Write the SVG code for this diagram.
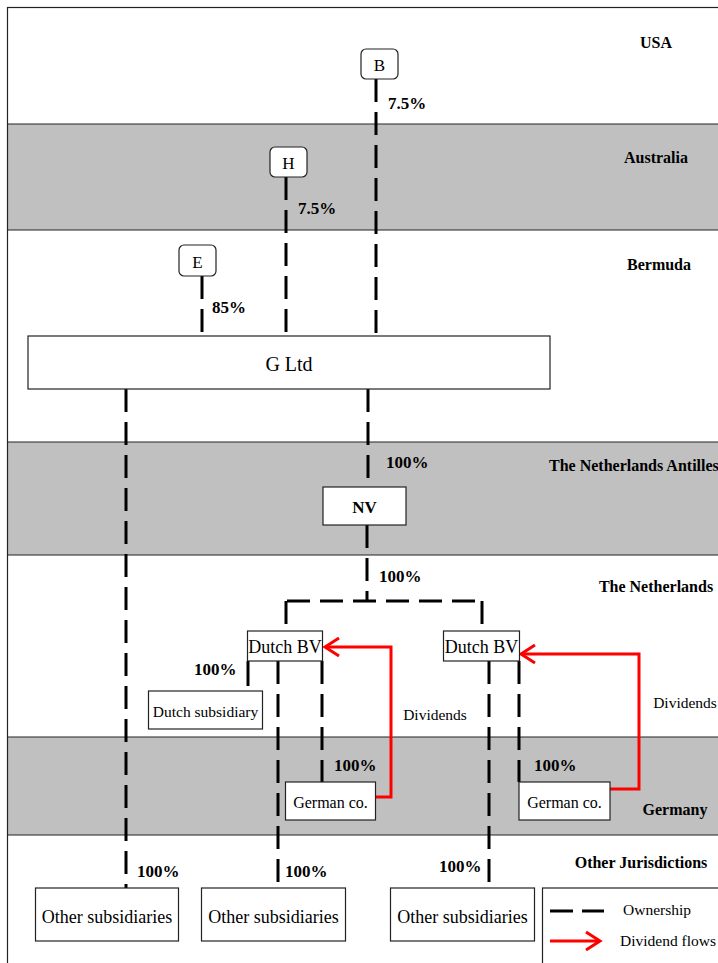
<svg xmlns="http://www.w3.org/2000/svg" width="718" height="963" viewBox="0 0 718 963">
<defs>
<style>
.band{fill:#c0c0c0}
.sep{stroke:#222;stroke-width:1.2;fill:none}
.box{fill:#fff;stroke:#222;stroke-width:1.2}
.own{stroke:#000;stroke-width:3;fill:none;stroke-dasharray:23 10}
.solid{stroke:#000;stroke-width:3;fill:none}
.div{stroke:#f00;stroke-width:3;fill:none}
.region{font-family:"Liberation Serif",serif;font-weight:bold;font-size:16px;fill:#000}
.pct{font-family:"Liberation Serif",serif;font-weight:bold;font-size:17px;fill:#000}
.t{font-family:"Liberation Serif",serif;fill:#000;text-anchor:middle}
</style>
<marker id="arr" markerWidth="22" markerHeight="24" refX="17" refY="12" orient="auto" markerUnits="userSpaceOnUse">
<path d="M3,3 L17,12 L3,21" fill="none" stroke="#f00" stroke-width="3"/>
</marker>
</defs>

<g id="background">
<rect x="0" y="0" width="718" height="963" fill="#fff"/>
<rect class="band" x="7" y="124" width="720" height="106"/>
<rect class="band" x="7" y="442" width="720" height="113"/>
<rect class="band" x="7" y="737" width="720" height="98"/>
<rect class="sep" x="7.5" y="7.5" width="730" height="970"/>
<line class="sep" x1="7" y1="124" x2="718" y2="124"/>
<line class="sep" x1="7" y1="230" x2="718" y2="230"/>
<line class="sep" x1="7" y1="442" x2="718" y2="442"/>
<line class="sep" x1="7" y1="555" x2="718" y2="555"/>
<line class="sep" x1="7" y1="737" x2="718" y2="737"/>
<line class="sep" x1="7" y1="835" x2="718" y2="835"/>
</g>

<g id="regions">
<text class="region" x="656" y="48" text-anchor="middle">USA</text>
<text class="region" x="656" y="163" text-anchor="middle">Australia</text>
<text class="region" x="659" y="270" text-anchor="middle">Bermuda</text>
<text class="region" x="549" y="471">The Netherlands Antilles</text>
<text class="region" x="656" y="592" text-anchor="middle">The Netherlands</text>
<text class="region" x="675" y="815" text-anchor="middle">Germany</text>
<text class="region" x="641" y="868" text-anchor="middle">Other Jurisdictions</text>
</g>

<g id="connectors">
<line class="own" x1="376" y1="79" x2="376" y2="336"/>
<line class="own" x1="286" y1="177" x2="286" y2="336"/>
<line class="own" x1="202" y1="276" x2="202" y2="336"/>
<line class="own" x1="126" y1="389" x2="126" y2="888"/>
<line class="own" x1="368" y1="389" x2="368" y2="487"/>
<line class="own" x1="367" y1="525" x2="367" y2="601"/>
<line class="own" x1="287" y1="601" x2="483" y2="601"/>
<line class="own" x1="286" y1="601" x2="286" y2="631"/>
<line class="own" x1="482" y1="601" x2="482" y2="631"/>
<line class="solid" x1="248" y1="661" x2="248" y2="686"/>
<line class="own" x1="278" y1="661" x2="278" y2="884"/>
<line class="own" x1="322" y1="661" x2="322" y2="782"/>
<line class="own" x1="489" y1="661" x2="489" y2="884"/>
<line class="own" x1="519" y1="661" x2="519" y2="782"/>
<polyline class="div" points="376,797 391,797 391,647 325,647" marker-end="url(#arr)"/>
<polyline class="div" points="610,789 639,789 639,654 521,654" marker-end="url(#arr)"/>
</g>

<g id="labels">
<text class="pct" x="388" y="109">7.5%</text>
<text class="pct" x="298" y="214">7.5%</text>
<text class="pct" x="212" y="313">85%</text>
<text class="pct" x="386" y="468">100%</text>
<text class="pct" x="379" y="582">100%</text>
<text class="pct" x="194" y="675">100%</text>
<text class="pct" x="334" y="771">100%</text>
<text class="pct" x="534" y="771">100%</text>
<text class="pct" x="137" y="877">100%</text>
<text class="pct" x="285" y="877">100%</text>
<text class="pct" x="439" y="872">100%</text>
<text class="t" x="435" y="720" font-size="15.5">Dividends</text>
<text class="t" x="685" y="708" font-size="15.5">Dividends</text>
</g>

<g id="node-B">
<rect class="box" x="361" y="49" width="37" height="30" rx="5"/>
<text class="t" x="379.5" y="71" font-size="17">B</text>
</g>
<g id="node-H">
<rect class="box" x="270" y="147" width="37" height="30" rx="5"/>
<text class="t" x="288.5" y="169" font-size="17">H</text>
</g>
<g id="node-E">
<rect class="box" x="179" y="245" width="37" height="31" rx="5"/>
<text class="t" x="197.5" y="268" font-size="17">E</text>
</g>
<g id="node-GLtd">
<rect class="box" x="28" y="336" width="522" height="53"/>
<text class="t" x="289" y="371" font-size="20">G Ltd</text>
</g>
<g id="node-NV">
<rect class="box" x="323" y="487" width="83" height="38"/>
<text class="t" x="364.5" y="513" font-size="17" font-weight="bold">NV</text>
</g>
<g id="node-DutchBV1">
<rect class="box" x="247.5" y="631" width="75" height="30"/>
<text class="t" x="285" y="653" font-size="18">Dutch BV</text>
</g>
<g id="node-DutchBV2">
<rect class="box" x="443.5" y="631" width="76" height="30"/>
<text class="t" x="481.5" y="653" font-size="18">Dutch BV</text>
</g>
<g id="node-DutchSub">
<rect class="box" x="148.5" y="691" width="114" height="38"/>
<text class="t" x="205.5" y="717" font-size="15.5">Dutch subsidiary</text>
</g>
<g id="node-German1">
<rect class="box" x="285.5" y="782" width="90" height="38"/>
<text class="t" x="330.5" y="808" font-size="16">German co.</text>
</g>
<g id="node-German2">
<rect class="box" x="519" y="782" width="91" height="38"/>
<text class="t" x="564.5" y="808" font-size="16">German co.</text>
</g>
<g id="node-Other1">
<rect class="box" x="35.5" y="888" width="143" height="53"/>
<text class="t" x="107" y="923" font-size="18">Other subsidiaries</text>
</g>
<g id="node-Other2">
<rect class="box" x="201.5" y="888" width="144" height="53"/>
<text class="t" x="273.5" y="923" font-size="18">Other subsidiaries</text>
</g>
<g id="node-Other3">
<rect class="box" x="390.5" y="888" width="144" height="53"/>
<text class="t" x="462.5" y="923" font-size="18">Other subsidiaries</text>
</g>

<g id="legend">
<rect class="box" x="542.5" y="888" width="200" height="90"/>
<line class="own" x1="550" y1="911" x2="604" y2="911" style="stroke-dasharray:23 9"/>
<text x="623" y="915" font-family="Liberation Serif, serif" font-size="15.5">Ownership</text>
<line class="div" x1="550" y1="941" x2="600" y2="941" marker-end="url(#arr)"/>
<text x="620" y="946" font-family="Liberation Serif, serif" font-size="15.5">Dividend flows</text>
</g>
</svg>
